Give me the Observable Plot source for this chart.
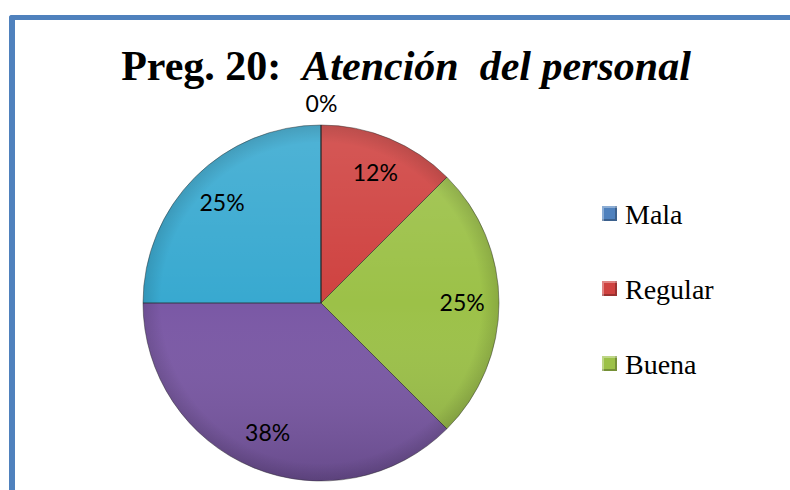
<!DOCTYPE html>
<html>
<head>
<meta charset="utf-8">
<script src="https://cdn.jsdelivr.net/npm/d3@7"></script>
<script src="https://cdn.jsdelivr.net/npm/@observablehq/plot@0.6"></script>
<style>
  html, body { margin: 0; padding: 0; background: #fff; width: 790px; height: 490px; overflow: hidden; }
  #frame { position: absolute; left: 9px; top: 15px; width: 820px; height: 520px;
           border-top: 5px solid #4F81BD; border-left: 6px solid #4F81BD; border-top-left-radius: 3px; }
  #title { position: absolute; left: 6px; width: 800px; top: 45px; text-align: center; white-space: pre;
           font-family: "Liberation Serif", "Times New Roman", serif; font-size: 42px; line-height: 1;
           font-weight: bold; color: #000; }
  #title i { font-style: italic; }
  #chart { position: absolute; left: 0; top: 0; }
  #legend { position: absolute; left: 602px; top: 0; font-family: "Liberation Serif", "Times New Roman", serif;
            font-size: 28px; line-height: 1; color: #000; }
  .row { position: absolute; left: 0; white-space: nowrap; }
  .sw { position: absolute; left: 0; top: 5px; width: 15px; height: 15px; box-sizing: border-box;
        box-shadow: inset 2px 2px 0 rgba(255,255,255,0.35), inset -2px -2px 0 rgba(0,0,0,0.25); }
  .lab { position: absolute; left: 23px; top: 0; }
</style>
</head>
<body>
<div id="frame"></div>
<div id="title">Preg. 20:  <i>Atención  del personal</i></div>
<div id="chart"></div>
<div id="legend"></div>
<script>
// ---- data ----
const categories = ["Mala", "Regular", "Buena", "Muy buena", "Excelente"];
const values = [0, 12.5, 25, 37.5, 25];
const labels = ["0%", "12%", "25%", "38%", "25%"];
const colors = ["#4F81BD", "#CF4240", "#9CC148", "#7A58A5", "#38A9D0"];
const legendShown = ["Mala", "Regular", "Buena"];

// ---- pie layout (angles from the data) ----
const pie = d3.pie().sort(null).value(d => d.value)(
  categories.map((c, i) => ({category: c, value: values[i], label: labels[i]}))
);
const slices = pie.map(p => ({
  category: p.data.category,
  label: p.data.label,
  start: p.startAngle,
  end: p.endAngle,
  mid: (p.startAngle + p.endAngle) / 2,
  lr: p.data.value > 0 ? 0.79 : 1.12
}));

const piePaths = (index, scales, vals) => {
  const cx = scales.x(0), cy = scales.y(0), r = scales.x(1) - scales.x(0);
  const arc = d3.arc().innerRadius(0).outerRadius(r);
  const g = d3.create("svg:g").attr("transform", `translate(${cx},${cy})`);
  const defs = g.append("defs");
  const lg = defs.append("linearGradient").attr("id", "pieShade")
    .attr("x1", 0).attr("y1", 0).attr("x2", 0).attr("y2", 1);
  lg.append("stop").attr("offset", "0%").attr("stop-color", "#fff").attr("stop-opacity", 0.12);
  lg.append("stop").attr("offset", "50%").attr("stop-color", "#fff").attr("stop-opacity", 0);
  lg.append("stop").attr("offset", "100%").attr("stop-color", "#000").attr("stop-opacity", 0.16);
  const rg = defs.append("radialGradient").attr("id", "pieRim");
  rg.append("stop").attr("offset", "90%").attr("stop-color", "#000").attr("stop-opacity", 0);
  rg.append("stop").attr("offset", "100%").attr("stop-color", "#000").attr("stop-opacity", 0.12);
  g.selectAll("path.slice").data(index).join("path")
    .attr("d", i => arc({startAngle: slices[i].start, endAngle: slices[i].end}))
    .attr("fill", i => vals.fill[i]);
  g.append("circle").attr("r", r).attr("fill", "url(#pieShade)");
  g.append("circle").attr("r", r).attr("fill", "url(#pieRim)");
  g.selectAll("path.edge").data(index).join("path")
    .attr("d", i => arc({startAngle: slices[i].start, endAngle: slices[i].end}))
    .attr("fill", "none").attr("stroke", "rgba(40,40,40,0.45)").attr("stroke-width", 1)
    .attr("stroke-linejoin", "round");
  return g.node();
};

const chart = Plot.plot({
  width: 790,
  height: 490,
  margin: 0,
  style: {background: "transparent", overflow: "visible"},
  x: {domain: [-1, 1], range: [143, 499], axis: null},
  y: {domain: [-1, 1], range: [481, 125], axis: null},
  color: {domain: categories, range: colors},
  marks: [
    Plot.dot(slices, {x: () => 0, y: () => 0, fill: "category", render: piePaths}),
    Plot.text(slices, {
      x: d => d.lr * Math.sin(d.mid),
      y: d => d.lr * Math.cos(d.mid),
      text: "label",
      fontSize: 23,
      fontFamily: "Lato, 'Open Sans', sans-serif",
      fill: "#000"
    })
  ]
});
document.getElementById("chart").appendChild(chart);

// ---- legend ----
const legend = d3.select("#legend");
const baselines0 = 201;
legendShown.forEach((c, k) => {
  const row = legend.append("div").attr("class", "row").style("top", (baselines0 + 75 * k) + "px");
  row.append("div").attr("class", "sw").style("background", colors[categories.indexOf(c)]);
  row.append("div").attr("class", "lab").text(c);
});
</script>
</body>
</html>
